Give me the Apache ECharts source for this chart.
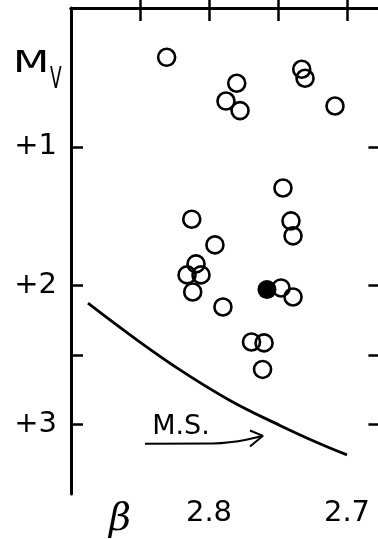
<!DOCTYPE html>
<html><head><meta charset="utf-8">
<script src="https://cdn.jsdelivr.net/npm/echarts@6/dist/echarts.min.js"></script>
<style>html,body{margin:0;padding:0;background:#fff}#c{width:378px;height:539px}</style>
</head><body><div id="c"></div>
<script>
// Open circles: [beta, Mv]
const openStars = [
  [2.8307,0.355],[2.7328,0.441],[2.7304,0.506],[2.7799,0.542],[2.7877,0.670],
  [2.7775,0.739],[2.7087,0.706],[2.7464,1.296],[2.8125,1.521],[2.7406,1.533],
  [2.7391,1.641],[2.7957,1.706],[2.8094,1.843],[2.8159,1.922],[2.8058,1.922],
  [2.8118,2.045],[2.7899,2.153],[2.7478,2.016],[2.7391,2.081],[2.7692,2.405],
  [2.7601,2.412],[2.7612,2.603]
];
// Filled circle
const filledStar = [[2.758,2.027]];
// Main sequence curve
const mainSeq = [
  [2.8877,2.126],[2.8572,2.354],[2.8210,2.606],[2.7848,2.826],[2.7486,3.006],[2.7196,3.138],[2.7000,3.218]
];
// Arrow shaft and head
const arrowShaft = [[2.8464,3.139],[2.7971,3.136],[2.7609,3.081]];
const arrowHead = [[2.7703,3.043],[2.7609,3.081],[2.7703,3.158]];
const msLabelPos = [[2.8203,3.018]];
// Ticks and labels
const xTicks = [2.7,2.75,2.8,2.85];
const xLabels = [2.7,2.8];
const yTicks = [1,2,2.5,3];
const yLabels = [1,2,3];

const chart = echarts.init(document.getElementById('c'));
const font = '"DejaVu Sans", sans-serif';
const axisCommon = {
  type:'value', min:2.67, max:2.9, inverse:true,
  axisLine:{show:true, lineStyle:{color:'#000', width:3}},
  splitLine:{show:false}
};
const yCommon = {
  type:'value', min:0, max:3.5, inverse:true,
  axisLine:{show:true, lineStyle:{color:'#000', width:3}},
  splitLine:{show:false}
};
chart.setOption({
  animation:false,
  backgroundColor:'#fff',
  grid:{left:71, top:8, width:317.4, height:486, outerBoundsMode:'none', containLabel:false},
  xAxis:[
    Object.assign({}, axisCommon, {position:'bottom',
      axisTick:{show:true, inside:true, length:14, lineStyle:{color:'#000', width:2.5}, customValues:xTicks},
      axisLabel:{show:true, customValues:xLabels, color:'#000', fontSize:29, fontFamily:font, margin:5,
        formatter:v=>Number(v).toFixed(1)}}),
    Object.assign({}, axisCommon, {position:'top',
      axisTick:{show:true, inside:true, length:13, lineStyle:{color:'#000', width:2.5}, customValues:xTicks},
      axisLabel:{show:false}})
  ],
  yAxis:[
    Object.assign({}, yCommon, {position:'left',
      axisTick:{show:true, inside:true, length:12, lineStyle:{color:'#000', width:2.5}, customValues:yTicks},
      axisLabel:{show:true, customValues:yLabels, color:'#000', fontSize:29, fontFamily:font, margin:14,
        formatter:v=>'+'+Math.round(v)}}),
    Object.assign({}, yCommon, {position:'right',
      axisTick:{show:true, inside:true, length:20, lineStyle:{color:'#000', width:2.5}, customValues:yTicks},
      axisLabel:{show:false}})
  ],
  series:[
    {type:'line', data:mainSeq, smooth:0.4, symbol:'none', lineStyle:{color:'#000', width:2.8}},
    {type:'line', data:arrowShaft, smooth:true, symbol:'none', lineStyle:{color:'#000', width:2}},
    {type:'line', data:arrowHead, symbol:'none', lineStyle:{color:'#000', width:2}},
    {type:'scatter', data:openStars, symbol:'circle', symbolSize:17,
      itemStyle:{color:'rgba(0,0,0,0)', borderColor:'#000', borderWidth:2.6, opacity:1}},
    {type:'scatter', data:filledStar, symbol:'circle', symbolSize:19, itemStyle:{color:'#000', opacity:1}},
    {type:'scatter', data:msLabelPos, symbolSize:1, itemStyle:{color:'rgba(0,0,0,0)', opacity:1},
      label:{show:true, position:'inside', formatter:'M.S.', color:'#000', fontSize:27, fontFamily:font}}
  ],
  graphic:[
    {type:'text', x:13, y:64, scaleX:1.4, style:{text:'M', font:'30px '+font, fill:'#000', verticalAlign:'middle', align:'left'}},
    {type:'text', x:50, y:80, scaleX:0.55, style:{text:'V', font:'31px '+font, fill:'#000', verticalAlign:'middle', align:'left'}},
    {type:'text', x:120, y:520, style:{text:'β', font:'italic 38px "DejaVu Serif", serif', fill:'#000', verticalAlign:'middle', align:'center'}}
  ]
});
</script>
</body></html>
